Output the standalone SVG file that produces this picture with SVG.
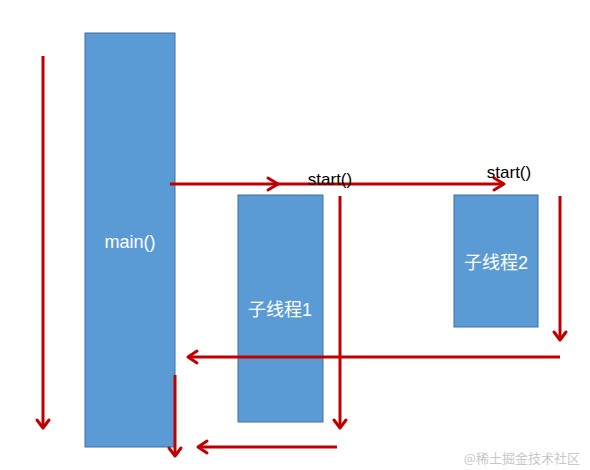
<svg xmlns="http://www.w3.org/2000/svg" width="590" height="470" viewBox="0 0 590 470">
<defs>
<style>
.box{fill:#5b9bd5;stroke:#41719c;stroke-width:1}
.lbl{fill:#ffffff;font-family:"Liberation Sans","Noto Sans CJK SC",sans-serif;font-size:18px;text-anchor:middle}
.st{fill:#000000;font-family:"Liberation Sans",sans-serif;font-size:17px;text-anchor:middle}
.ln{stroke:#c00000;stroke-width:3;fill:none}
.hd{stroke:#c00000;stroke-width:3;fill:none;stroke-linecap:round;stroke-linejoin:round}
</style>
</defs>
<rect width="590" height="470" fill="#ffffff"/>
<g id="main">
<rect class="box" x="85" y="33" width="90" height="414"/>
<text class="lbl" x="130" y="248">main()</text>
</g>
<g id="thread1">
<rect class="box" x="238" y="195" width="85" height="227"/>
<text class="lbl" x="280" y="316">子线程1</text>
</g>
<g id="thread2">
<rect class="box" x="454" y="195" width="84" height="132"/>
<text class="lbl" x="496" y="269">子线程2</text>
</g>
<g id="connectors">
<line class="ln" x1="43" y1="56" x2="43" y2="428"/>
<polyline class="hd" points="37,420 43,428 49,420"/>
<line class="ln" x1="170" y1="184" x2="504" y2="184"/>
<polyline class="hd" points="268,178 278,184 268,190"/>
<polyline class="hd" points="494,178 504,184 494,190"/>
<line class="ln" x1="340" y1="196" x2="340" y2="428"/>
<polyline class="hd" points="334,420 340,428 346,420"/>
<line class="ln" x1="560" y1="196" x2="560" y2="340"/>
<polyline class="hd" points="554,332 560,340 566,332"/>
<line class="ln" x1="560" y1="357" x2="188" y2="357"/>
<polyline class="hd" points="197,351 188,357 197,363"/>
<line class="ln" x1="175" y1="375" x2="175" y2="456"/>
<polyline class="hd" points="169,448 175,456 181,448"/>
<line class="ln" x1="337" y1="447" x2="198" y2="447"/>
<polyline class="hd" points="207,441 198,447 207,453"/>
</g>
<text class="st" x="330" y="185">start()</text>
<text class="st" x="509" y="178">start()</text>
<text x="580" y="463" fill="#c8c8c8" font-family="'Noto Sans CJK SC',sans-serif" font-size="13" text-anchor="end">@稀土掘金技术社区</text>
</svg>
